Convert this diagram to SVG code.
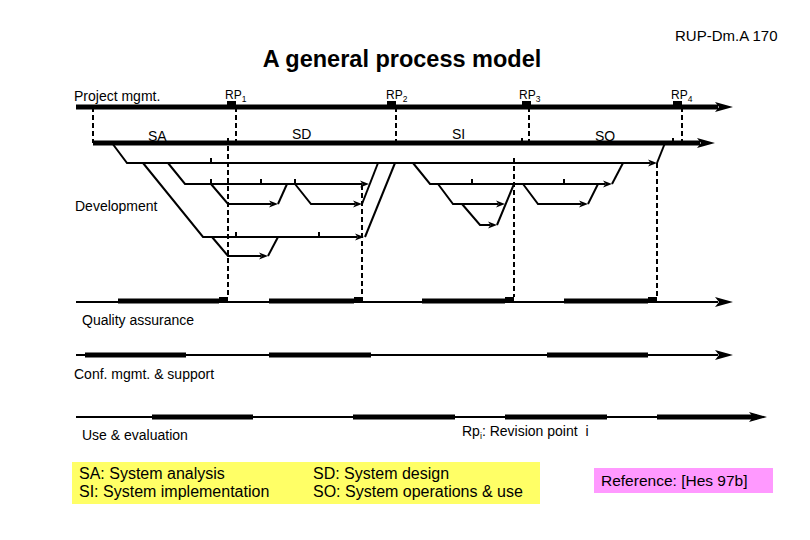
<svg xmlns="http://www.w3.org/2000/svg" width="810" height="540" viewBox="0 0 810 540">
<style>
text{font-family:"Liberation Sans",Arial,sans-serif;fill:#000}
.lbl{font-size:14px}
.rp{font-size:12px}
.sub{font-size:8.5px}
.leg{font-size:16px}
.thick{stroke:#000;stroke-width:5;fill:none}
.thin{stroke:#000;stroke-width:2;fill:none}
.seg{stroke:#000;stroke-width:5;fill:none}
.dev{stroke:#000;stroke-width:2;fill:none}
.dash{stroke:#000;stroke-width:2;stroke-dasharray:5 3;fill:none}
.sq{fill:#000}
</style>
<defs>
<marker id="big" markerUnits="userSpaceOnUse" markerWidth="20" markerHeight="12" refX="3" refY="6" orient="auto">
<path d="M0,1 L18,6 L0,11 L4,6 z" fill="#000"/>
</marker>
<marker id="small" markerUnits="userSpaceOnUse" markerWidth="11" markerHeight="8" refX="2" refY="4" orient="auto">
<path d="M0,0.5 L9,4 L0,7.5 L2.5,4 z" fill="#000"/>
</marker>
</defs>

<g id="header">
<text x="675" y="41" style="font-size:15px">RUP-Dm.A 170</text>
<text x="402" y="67" text-anchor="middle" style="font-size:23.5px;font-weight:bold">A general process model</text>
</g>

<g id="project-mgmt">
<line class="thick" x1="76" y1="107" x2="718" y2="107" marker-end="url(#big)"/>
<text class="lbl" x="74" y="101">Project mgmt.</text>
<rect class="sq" x="227" y="101" width="9" height="6"/>
<rect class="sq" x="387" y="101" width="9" height="6"/>
<rect class="sq" x="522" y="101" width="9" height="6"/>
<rect class="sq" x="673" y="101" width="9" height="6"/>
<text class="rp" x="225" y="99">RP<tspan class="sub" dy="3">1</tspan></text>
<text class="rp" x="386" y="99">RP<tspan class="sub" dy="3">2</tspan></text>
<text class="rp" x="519" y="99">RP<tspan class="sub" dy="3">3</tspan></text>
<text class="rp" x="671" y="99">RP<tspan class="sub" dy="3">4</tspan></text>
</g>

<g id="phases">
<line class="thick" x1="93" y1="143" x2="700" y2="143" marker-end="url(#big)"/>
<text class="lbl" x="148" y="141">SA</text>
<text class="lbl" x="292" y="139">SD</text>
<text class="lbl" x="452" y="139">SI</text>
<text class="lbl" x="595" y="141">SO</text>
<line class="dev" x1="522" y1="138" x2="522" y2="143"/>
<line class="dev" x1="673" y1="138" x2="673" y2="143"/>
</g>

<g id="development">
<text class="lbl" x="75" y="211">Development</text>
</g>

<g id="quality-assurance">
<line class="thin" x1="76" y1="302" x2="718" y2="302" marker-end="url(#big)"/>
<line class="seg" x1="118" y1="301" x2="219" y2="301"/>
<line class="seg" x1="269" y1="301" x2="354" y2="301"/>
<line class="seg" x1="422" y1="301" x2="505" y2="301"/>
<line class="seg" x1="564" y1="301" x2="648" y2="301"/>
<rect class="sq" x="219" y="297" width="9" height="6"/>
<rect class="sq" x="354" y="297" width="9" height="6"/>
<rect class="sq" x="505" y="297" width="9" height="6"/>
<rect class="sq" x="648" y="297" width="9" height="6"/>
<text class="lbl" x="82" y="325">Quality assurance</text>
</g>

<g id="conf-mgmt">
<line class="thin" x1="76" y1="355" x2="718" y2="355" marker-end="url(#big)"/>
<line class="seg" x1="85" y1="355" x2="186" y2="355"/>
<line class="seg" x1="269" y1="355" x2="371" y2="355"/>
<line class="seg" x1="547" y1="355" x2="648" y2="355"/>
<text class="lbl" x="74" y="379">Conf. mgmt. &amp; support</text>
</g>

<g id="use-evaluation">
<line class="thin" x1="76" y1="417" x2="752" y2="417" marker-end="url(#big)"/>
<line class="seg" x1="152" y1="417" x2="253" y2="417"/>
<line class="seg" x1="353" y1="417" x2="455" y2="417"/>
<line class="seg" x1="505" y1="417" x2="607" y2="417"/>
<line class="seg" x1="657" y1="417" x2="757" y2="417"/>
<text class="lbl" x="82" y="440">Use &amp; evaluation</text>
<text style="font-size:14px;white-space:pre" x="462" y="436">Rp<tspan style="font-size:9px" dy="3">i</tspan><tspan dy="-3">: Revision point  i</tspan></text>
</g>

<g id="legend">
<rect x="72" y="462" width="468" height="42" fill="#ffff66"/>
<text class="leg" x="79" y="479">SA: System analysis</text>
<text class="leg" x="79" y="497">SI: System implementation</text>
<text class="leg" x="313" y="479">SD: System design</text>
<text class="leg" x="313" y="497">SO: System operations &amp; use</text>
</g>

<g id="reference">
<rect x="594" y="468" width="179" height="25" fill="#ff99ff"/>
<text style="font-size:15.5px" x="601" y="486">Reference: [Hes 97b]</text>
</g>

<g id="connectors">
<line class="dash" x1="93" y1="107" x2="93" y2="143"/>
<line class="dash" x1="236" y1="107" x2="236" y2="143"/>
<line class="dash" x1="396" y1="107" x2="396" y2="143"/>
<line class="dash" x1="529" y1="107" x2="529" y2="143"/>
<line class="dash" x1="682" y1="107" x2="682" y2="143"/>
<line class="dash" x1="228" y1="138" x2="228" y2="297"/>
<line class="dash" x1="362" y1="185" x2="362" y2="297"/>
<line class="dash" x1="514" y1="158" x2="514" y2="297"/>
<line class="dash" x1="657" y1="163" x2="657" y2="297"/>

<polyline class="dev" points="112,143 127,163 650,163" marker-end="url(#small)"/>
<line class="dev" x1="657" y1="163" x2="665" y2="143"/>
<line class="dev" x1="211" y1="158" x2="211" y2="163"/>

<polyline class="dev" points="168,163 185,184 362,184" marker-end="url(#small)"/>
<line class="dev" x1="362" y1="204" x2="378" y2="163"/>
<line class="dev" x1="211" y1="179" x2="211" y2="184"/>
<line class="dev" x1="261" y1="179" x2="261" y2="184"/>
<line class="dev" x1="295" y1="179" x2="295" y2="184"/>
<polyline class="dev" points="211,184 228,204 271,204" marker-end="url(#small)"/>
<line class="dev" x1="278" y1="204" x2="287" y2="184"/>
<polyline class="dev" points="295,184 311,204 355,204" marker-end="url(#small)"/>

<polyline class="dev" points="143,163 203,237 357,237" marker-end="url(#small)"/>
<line class="dev" x1="365" y1="237" x2="395" y2="163"/>
<line class="dev" x1="236" y1="232" x2="236" y2="237"/>
<line class="dev" x1="319" y1="232" x2="319" y2="237"/>
<polyline class="dev" points="212,237 228,256 261,256" marker-end="url(#small)"/>
<line class="dev" x1="268" y1="256" x2="278" y2="237"/>

<polyline class="dev" points="413,163 430,184 605,184" marker-end="url(#small)"/>
<line class="dev" x1="612" y1="184" x2="623" y2="163"/>
<line class="dev" x1="472" y1="179" x2="472" y2="184"/>
<line class="dev" x1="564" y1="179" x2="564" y2="184"/>
<polyline class="dev" points="438,184 453,204 498,204" marker-end="url(#small)"/>
<polyline class="dev" points="462,204 480,225 490,225" marker-end="url(#small)"/>
<line class="dev" x1="497" y1="225" x2="514" y2="184"/>
<polyline class="dev" points="523,184 538,204 581,204" marker-end="url(#small)"/>
<line class="dev" x1="588" y1="204" x2="598" y2="184"/>
</g>
</svg>
